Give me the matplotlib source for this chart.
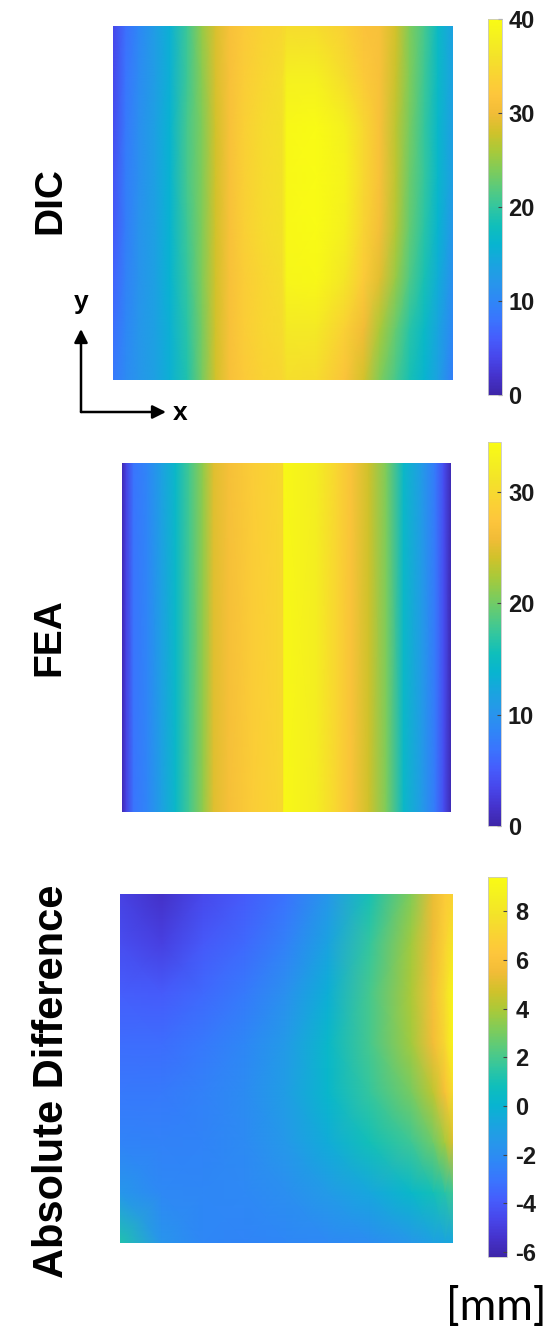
import numpy as np
import matplotlib
matplotlib.use("Agg")
import matplotlib.pyplot as plt
from matplotlib.colors import LinearSegmentedColormap, Normalize
from matplotlib.patches import FancyArrowPatch

# ---------------- data ----------------
# DIC field [mm]: rows top -> bottom, columns left -> right (x as fraction of width)
dic_x = [0.0, 0.037, 0.075, 0.125, 0.168, 0.218, 0.262, 0.302, 0.343, 0.386, 0.442,
         0.498, 0.511, 0.598, 0.682, 0.738, 0.785, 0.832, 0.872, 0.916, 0.956, 1.0]
dic_y = [1.0, 0.857, 0.714, 0.571, 0.429, 0.286, 0.143, 0.0]
dic_r0 = [4, 7.5, 10, 13, 15.5, 20.5, 25, 28.5, 31, 32.5, 34, 34.5, 35, 35, 33.5, 31.5, 31, 28, 24, 21, 17, 13.5]
dic_r1 = [4, 8, 10.5, 13, 15.5, 20.5, 24.5, 28.5, 31, 33, 34.5, 35.5, 38, 38, 35, 32.5, 31, 27.5, 24, 20.5, 17, 13.5]
dic_r2 = [4.5, 8.5, 11, 13.5, 16, 21, 24, 28, 31, 33.5, 35, 36, 39.5, 40, 38, 34.5, 31, 27, 23.5, 20, 16.5, 13]
dic_r3 = [5, 9, 11, 13.5, 16, 21, 24, 28, 31, 33.5, 35, 36, 39.5, 40, 38.5, 34.5, 31, 27, 23, 20, 16.5, 13]
dic_r4 = [5.5, 9, 11.5, 13.5, 16, 20.5, 24, 28, 31, 33.5, 35, 36, 39.5, 40, 38, 34, 30.5, 26.5, 22.5, 19.5, 16, 12]
dic_r5 = [6.5, 9.5, 11.5, 13.5, 16, 20, 24, 28, 31, 33, 34.5, 35.5, 39, 39.5, 36.5, 32.5, 29, 25, 21.5, 18.5, 15, 11]
dic_r6 = [7.5, 10, 12, 13.5, 15.5, 19.5, 23.5, 28, 31, 33, 34.5, 35, 37, 37, 33.5, 30, 26, 22.5, 19.5, 17, 14, 10]
dic_r7 = [8.5, 10.5, 12, 13.5, 15.5, 19, 23.5, 28, 31, 32.5, 34, 34.5, 35.5, 35, 31.5, 28, 24, 21, 18.5, 16, 13.5, 9]

# FEA field [mm]: constant along y, profile along x
fea_x = [0.0, 0.013, 0.035, 0.077, 0.119, 0.163, 0.205, 0.247, 0.279, 0.324, 0.397,
         0.470, 0.490, 0.492, 0.590, 0.654, 0.696, 0.750, 0.803, 0.856, 0.910, 0.952,
         0.978, 1.0]
fea_profile = [0.5, 3, 7, 8.5, 11.5, 14.5, 18, 21.5, 24.8, 26.5, 28.5, 29.5, 30, 34,
               32.5, 29.5, 27, 24, 20.5, 14.5, 11, 7.5, 4, 0.5]

# Absolute difference [mm]
dif_x = [0.0, 0.125, 0.25, 0.375, 0.5, 0.625, 0.75, 0.875, 0.94, 0.975, 1.0]
dif_y = [1.0, 0.857, 0.714, 0.571, 0.429, 0.286, 0.143, 0.0]
dif_r0 = [-4.8, -5.5, -4.6, -3.9, -3.1, -1.5, 1.0, 3.2, 5.3, 6.5, 7.0]
dif_r1 = [-4.4, -4.9, -4.0, -3.4, -2.5, -0.8, 1.6, 3.8, 5.5, 7.0, 8.0]
dif_r2 = [-3.8, -3.9, -3.4, -2.8, -1.8, -0.2, 2.0, 4.0, 5.8, 7.5, 9.0]
dif_r3 = [-3.3, -3.3, -2.9, -2.3, -1.3, 0.3, 2.0, 3.8, 5.6, 7.2, 9.0]
dif_r4 = [-2.9, -2.8, -2.5, -2.0, -1.1, 0.2, 1.6, 3.0, 4.3, 5.8, 7.5]
dif_r5 = [-2.4, -2.5, -2.4, -2.1, -1.4, -0.4, 0.9, 1.8, 2.8, 3.8, 5.0]
dif_r6 = [-1.5, -2.2, -2.3, -2.2, -1.9, -1.3, -0.6, 0.3, 0.9, 1.3, 1.8]
dif_r7 = [1.2, -1.6, -2.3, -2.4, -2.3, -2.2, -2.0, -1.5, -1.0, -0.8, -0.6]

dic_ticks = [0, 10, 20, 30, 40]
fea_ticks = [0, 10, 20, 30]
dif_ticks = [-6, -4, -2, 0, 2, 4, 6, 8]
dic_range = (0, 40)
fea_range = (0, 34.5)
dif_range = (-6.2, 9.4)
row_labels = ["DIC", "FEA", "Absolute Difference"]
unit_label = "[mm]"

# ---------------- colormap (parula-like) ----------------
parula_pts = [
    (0.00, (0.2422, 0.1504, 0.6603)), (0.05, (0.2691, 0.2001, 0.8040)),
    (0.10, (0.2810, 0.2790, 0.9226)), (0.15, (0.2733, 0.3645, 0.9890)),
    (0.20, (0.2264, 0.4570, 0.9946)), (0.25, (0.1822, 0.5294, 0.9655)),
    (0.30, (0.1530, 0.5917, 0.9183)), (0.35, (0.0984, 0.6460, 0.8740)),
    (0.40, (0.0296, 0.7075, 0.8151)), (0.45, (0.0594, 0.7465, 0.7328)),
    (0.50, (0.1971, 0.7771, 0.6236)), (0.55, (0.3475, 0.7938, 0.4893)),
    (0.60, (0.5020, 0.7990, 0.3480)), (0.65, (0.6625, 0.7896, 0.2245)),
    (0.70, (0.8170, 0.7606, 0.1660)), (0.75, (0.9475, 0.7369, 0.2163)),
    (0.80, (0.9937, 0.7757, 0.2348)), (0.85, (0.9788, 0.8280, 0.2000)),
    (0.90, (0.9540, 0.8859, 0.1641)), (0.95, (0.9581, 0.9394, 0.1269)),
    (1.00, (0.9769, 0.9839, 0.0805)),
]
cmap = LinearSegmentedColormap.from_list("parula", parula_pts, N=256)

# ---------------- figure ----------------
W, H = 551, 1332
fig = plt.figure(figsize=(W / 100, H / 100), dpi=100)
fig.patch.set_facecolor("white")


def fax(x0, y0, x1, y1):
    """pixel box (top-left origin) -> figure axes"""
    return fig.add_axes([x0 / W, 1 - y1 / H, (x1 - x0) / W, (y1 - y0) / H])


def fxy(x, y):
    return x / W, 1 - y / H


def panel(box, cbox, X, Y, C, rng, ticks, pad):
    ax = fax(*box)
    XX, YY = np.meshgrid(X, Y)
    m = ax.pcolormesh(XX, YY, np.asarray(C, dtype=float), shading="gouraud",
                      cmap=cmap, norm=Normalize(*rng), rasterized=True)
    ax.set_xlim(0, 1)
    ax.set_ylim(0, 1)
    ax.axis("off")
    cax = fax(*cbox)
    cb = fig.colorbar(m, cax=cax, ticks=ticks)
    cb.outline.set_linewidth(0.6)
    cb.outline.set_edgecolor("#c8c8c8")
    cax.tick_params(direction="in", length=3, width=0.8, color="#444444", pad=pad)
    cax.set_yticklabels([str(t) for t in ticks])
    for lab in cax.get_yticklabels():
        lab.set_fontfamily("Liberation Sans")
        lab.set_fontweight("bold")
        lab.set_fontsize(17)
        lab.set_color("#1a1a1a")
    return ax


dic = [dic_r0, dic_r1, dic_r2, dic_r3, dic_r4, dic_r5, dic_r6, dic_r7]
panel((113, 26, 453, 380), (488, 19, 502, 395), dic_x, dic_y, dic, dic_range, dic_ticks, 4.5)

fea = [fea_profile, fea_profile]
panel((122, 463, 451, 812), (488, 442, 501, 826), fea_x, [1.0, 0.0], fea, fea_range, fea_ticks, 5)

dif = [dif_r0, dif_r1, dif_r2, dif_r3, dif_r4, dif_r5, dif_r6, dif_r7]
panel((120, 894, 453, 1243), (488, 877, 507, 1257), dif_x, dif_y, dif, dif_range, dif_ticks, 6)

# row labels
label_kw = dict(family="Liberation Sans", weight="bold", rotation=90,
                ha="center", va="center", color="black")
fig.text(*fxy(50, 201), row_labels[0], fontsize=28, **label_kw)
fig.text(*fxy(49, 637), row_labels[1], fontsize=28, **label_kw)
fig.text(*fxy(52, 1081), row_labels[2], fontsize=30, **label_kw)

# unit
fig.text(*fxy(496, 1308), unit_label, fontsize=32, family="Lato",
         ha="center", va="center", color="black")

# coordinate arrows
corner = fxy(81, 412)
for tip in (fxy(81, 329), fxy(166, 412)):
    arr = FancyArrowPatch(corner, tip, transform=fig.transFigure,
                          arrowstyle="-|>", mutation_scale=20, lw=1.8,
                          color="black", shrinkA=0, shrinkB=0)
    fig.add_artist(arr)
fig.text(*fxy(81, 302), "y", fontsize=19, family="Liberation Sans", weight="bold",
         ha="center", va="center")
fig.text(*fxy(180, 413), "x", fontsize=19, family="Liberation Sans", weight="bold",
         ha="center", va="center")

fig.savefig("out.png", dpi=100, facecolor="white")
